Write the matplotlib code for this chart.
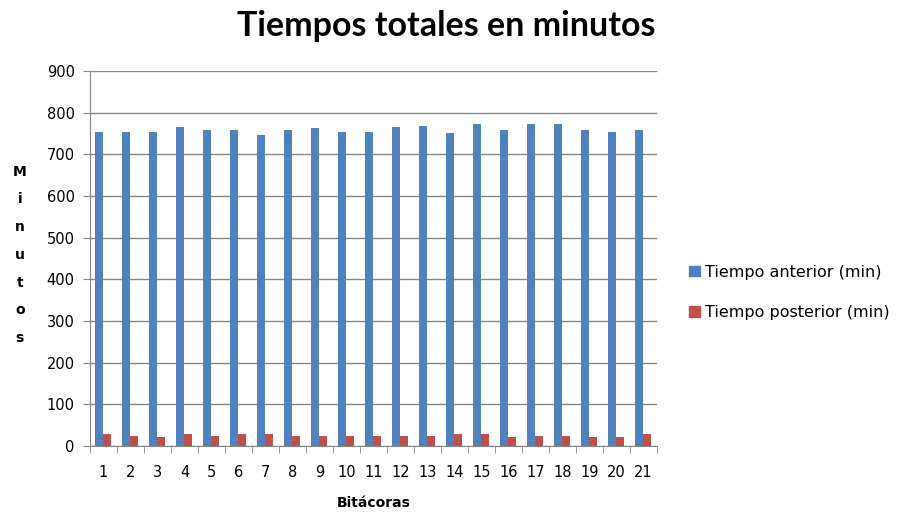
import numpy as np
import matplotlib
matplotlib.use("Agg")
import matplotlib.pyplot as plt
from matplotlib.patches import Patch

# Datos
bitacoras = [str(i) for i in range(1, 22)]
tiempo_anterior = [754, 754, 754, 765, 758, 758, 747, 758, 762, 754, 754,
                   765, 769, 750, 772, 758, 772, 772, 758, 754, 758]
tiempo_posterior = [29, 25, 21, 29, 25, 29, 29, 25, 25, 25, 25,
                    25, 25, 29, 29, 21, 25, 25, 21, 21, 29]

azul = "#4F81BD"
rojo = "#C0504D"

fig = plt.figure(figsize=(9, 5.13), dpi=100)
ax = fig.add_axes([0.1, 0.1306, 0.63, 0.731])

x = np.arange(len(bitacoras))
ancho = 0.28
ax.bar(x - ancho / 2 - 0.02, tiempo_anterior, ancho, color=azul, zorder=3)
ax.bar(x + ancho / 2 - 0.02, tiempo_posterior, ancho, color=rojo, zorder=3)

ax.set_xlim(-0.5, len(bitacoras) - 0.5)
ax.set_ylim(0, 900)
ax.set_yticks(range(0, 901, 100))
ax.set_xticks(x)
ax.set_xticklabels(bitacoras)
ax.set_xticks(np.arange(-0.5, len(bitacoras), 1), minor=True)
ax.tick_params(axis="x", which="major", length=0, labelsize=10.5, pad=14)
ax.tick_params(axis="x", which="minor", length=5, color="#868686")
ax.tick_params(axis="y", length=5, color="#868686", labelsize=10.5, pad=6)
ax.grid(axis="y", color="#868686", linewidth=1, zorder=0)

for lado in ["top", "right"]:
    ax.spines[lado].set_visible(False)
for lado in ["left", "bottom"]:
    ax.spines[lado].set_color("#868686")

fig.text(0.496, 0.95, "Tiempos totales en minutos", ha="center", va="center",
         fontsize=24.5, fontweight="bold", family="Lato")
ax.set_xlabel("Bitácoras", fontsize=10, fontweight="bold", labelpad=11)
fig.text(0.022, 0.503, "\n".join("Minutos"), ha="center", va="center",
         fontsize=10, fontweight="bold", linespacing=2.25)

handles = [Patch(color=azul), Patch(color=rojo)]
fig.legend(handles, ["Tiempo anterior (min)", "Tiempo posterior (min)"],
           loc="center left", bbox_to_anchor=(0.75, 0.43), frameon=False,
           fontsize=11.5, handlelength=0.65, handleheight=0.65,
           handletextpad=0.3, labelspacing=1.6)

fig.savefig("out.png", dpi=100)
